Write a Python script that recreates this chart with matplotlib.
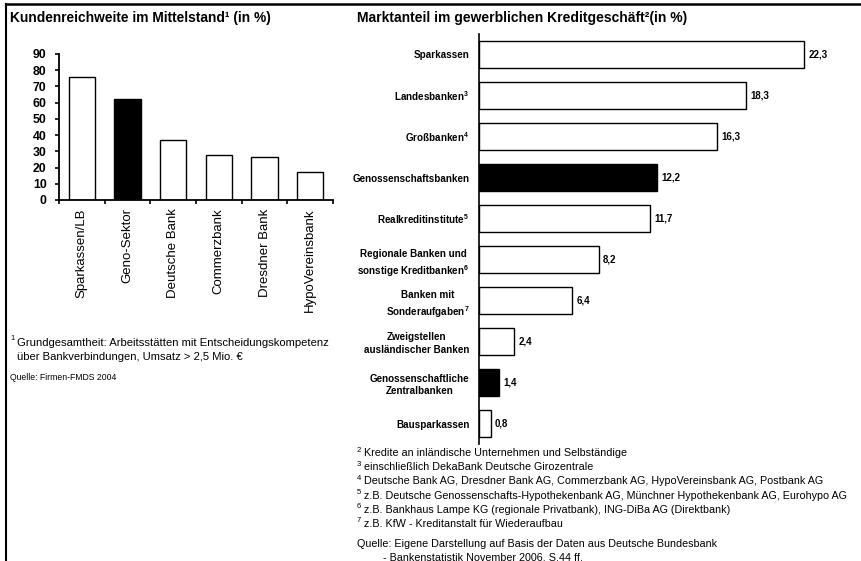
import numpy as np
import matplotlib.pyplot as plt
from matplotlib.lines import Line2D

plt.rcParams['font.family'] = ['Liberation Sans', 'DejaVu Sans']
plt.rcParams['mathtext.fontset'] = 'custom'
plt.rcParams['mathtext.rm'] = 'Liberation Sans'
plt.rcParams['mathtext.bf'] = 'Liberation Sans:bold'

# Left chart data
left_cats = ["Sparkassen/LB", "Geno-Sektor", "Deutsche Bank", "Commerzbank",
             "Dresdner Bank", "HypoVereinsbank"]
left_vals = [76, 62, 37, 28, 26.5, 17]
left_dark = [False, True, False, False, False, False]

# Right chart data
right_cats = ["Sparkassen", r"Landesbanken$^{\mathbf{3}}$", r"Großbanken$^{\mathbf{4}}$",
              "Genossenschaftsbanken", r"Realkreditinstitute$^{\mathbf{5}}$",
              "Regionale Banken und\n" + r"sonstige Kreditbanken$^{\mathbf{6}}$",
              "Banken mit\n" + r"Sonderaufgaben$^{\mathbf{7}}$",
              "Zweigstellen\nausländischer Banken",
              "Genossenschaftliche\nZentralbanken", "Bausparkassen"]
right_vals = [22.3, 18.3, 16.3, 12.2, 11.7, 8.2, 6.4, 2.4, 1.4, 0.8]
right_dark = [False, False, False, True, False, False, False, False, True, False]

# footnotes (marker, text)
note_marks = ["2", "3", "4", "5", "6", "7"]
note_texts = ["Kredite an inländische Unternehmen und Selbständige",
              "einschließlich DekaBank Deutsche Girozentrale",
              "Deutsche Bank AG, Dresdner Bank AG, Commerzbank AG, HypoVereinsbank AG, Postbank AG",
              "z.B. Deutsche Genossenschafts-Hypothekenbank AG, Münchner Hypothekenbank AG, Eurohypo AG",
              "z.B. Bankhaus Lampe KG (regionale Privatbank), ING-DiBa AG (Direktbank)",
              "z.B. KfW - Kreditanstalt für Wiederaufbau"]

W, H = 861, 561
fig = plt.figure(figsize=(W / 100, H / 100), dpi=100)


def box(x0, y0, x1, y1):
    # pixel coords (top-left origin) -> figure fraction rect
    return [x0 / W, 1 - y1 / H, (x1 - x0) / W, (y1 - y0) / H]


def px(x, y):
    return x / W, 1 - y / H


# ---- left chart ----
ax1 = fig.add_axes(box(59, 54, 333, 200))
xs = np.arange(len(left_cats))
ax1.bar(xs, left_vals, width=0.57,
        color=['black' if d else 'white' for d in left_dark],
        edgecolor='black', linewidth=1.0)
ax1.set_xlim(-0.5, len(left_cats) - 0.5)
ax1.set_ylim(0, 90)
ax1.set_yticks(np.arange(0, 91, 10))
ax1.set_yticklabels([str(v) for v in range(0, 91, 10)], fontsize=8.8,
                    fontweight='bold')
ax1.set_xticks(xs)
ax1.set_xticklabels(left_cats, rotation=90, fontsize=9.5)
ax1.set_xticks(np.arange(-0.5, len(left_cats)), minor=True)
ax1.tick_params(axis='x', which='major', length=0, pad=6)
ax1.tick_params(axis='x', which='minor', length=3, direction='out', width=1.2)
ax1.tick_params(axis='y', length=3, width=1.2, pad=6)
for s in ['top', 'right']:
    ax1.spines[s].set_visible(False)
for s in ['left', 'bottom']:
    ax1.spines[s].set_linewidth(1.3)

fig.text(*px(10, 18), "Kundenreichweite im Mittelstand¹ (in %)",
         fontsize=9.9, fontweight='bold', va='center')
fig.text(*px(10, 339), "1", fontsize=5.5, va='center')
fig.text(*px(17, 343), "Grundgesamtheit: Arbeitsstätten mit Entscheidungskompetenz",
         fontsize=8.1, va='center')
fig.text(*px(17, 357), "über Bankverbindungen, Umsatz > 2,5 Mio. €",
         fontsize=8.1, va='center')
fig.text(*px(10, 377), "Quelle: Firmen-FMDS 2004", fontsize=6.2, va='center')

# ---- right chart ----
ax2 = fig.add_axes(box(479, 34, 850, 444))
ys = np.arange(len(right_cats))
ax2.barh(ys, right_vals, height=0.67,
         color=['black' if d else 'white' for d in right_dark],
         edgecolor='black', linewidth=1.0)
ax2.set_ylim(len(right_cats) - 0.5, -0.5)
ax2.set_xlim(0, 25.45)
ax2.set_yticks(ys)
ax2.set_yticklabels(right_cats, fontsize=7.1, fontweight='bold',
                    multialignment='center', linespacing=1.35)
ax2.tick_params(axis='y', length=0, pad=7)
ax2.set_xticks([])
for s in ['top', 'right', 'bottom']:
    ax2.spines[s].set_visible(False)
ax2.spines['left'].set_linewidth(1.2)
for y, v in zip(ys, right_vals):
    ax2.text(v + 0.3, y, f"{v:.1f}".replace('.', ','), fontsize=7,
             fontweight='bold', va='center', ha='left')

fig.text(*px(357, 18), "Marktanteil im gewerblichen Kreditgeschäft²(in %)",
         fontsize=10, fontweight='bold', va='center')

note_y = [453, 467, 481, 496, 510, 524]
for m, t, y in zip(note_marks, note_texts, note_y):
    fig.text(*px(357, y - 3), m, fontsize=5.5, va='center')
    fig.text(*px(364, y), t, fontsize=7.75, va='center')
fig.text(*px(357, 544),
         "Quelle: Eigene Darstellung auf Basis der Daten aus Deutsche Bundesbank",
         fontsize=7.75, va='center')
fig.text(*px(383, 557), "- Bankenstatistik November 2006, S.44 ff.",
         fontsize=7.75, va='center')

# frame lines
fig.add_artist(Line2D([6 / W, 6 / W], [0, 1 - 4 / H], color='black', lw=1.5))
fig.add_artist(Line2D([6 / W, 1], [1 - 4 / H, 1 - 4 / H], color='black', lw=1.8))

fig.savefig("out.png", dpi=100)
